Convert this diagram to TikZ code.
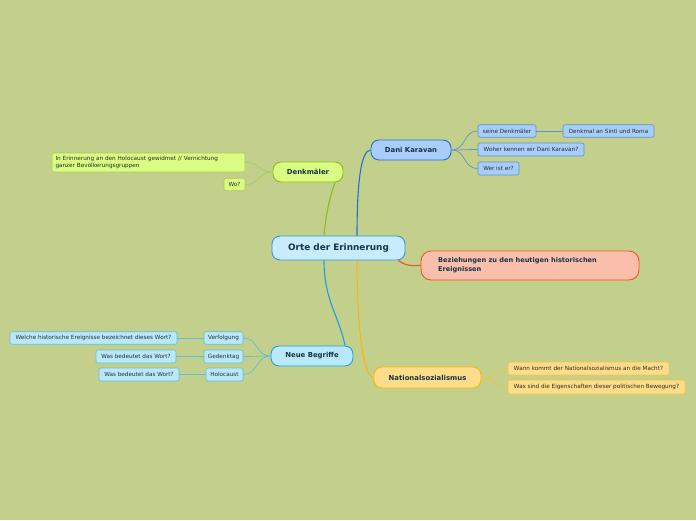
\documentclass[tikz,border=0pt]{standalone}
\usepackage{fontspec}
\setmainfont{DejaVu Sans}
\definecolor{bg}{RGB}{195,208,140}
\definecolor{txt}{RGB}{22,52,70}
\definecolor{subtxt}{RGB}{40,45,45}
\definecolor{cfill}{RGB}{200,236,252}
\definecolor{cdraw}{RGB}{50,150,215}
\definecolor{dvfill}{RGB}{168,205,250}
\definecolor{dvdraw}{RGB}{40,110,205}
\definecolor{dvline}{RGB}{95,145,205}
\definecolor{dkfill}{RGB}{218,252,130}
\definecolor{dkdraw}{RGB}{140,190,25}
\definecolor{dkline}{RGB}{165,205,85}
\definecolor{bzfill}{RGB}{249,191,170}
\definecolor{bzdraw}{RGB}{238,85,35}
\definecolor{nbfill}{RGB}{185,232,250}
\definecolor{nbdraw}{RGB}{25,160,220}
\definecolor{nbline}{RGB}{95,190,218}
\definecolor{nsfill}{RGB}{254,220,138}
\definecolor{nsdraw}{RGB}{245,183,20}
\definecolor{nsline}{RGB}{240,195,60}
\tikzset{
  mainnode/.style={rounded corners=8pt, draw, line width=0.9pt, font=\bfseries\fontsize{6.9}{8.5}\selectfont, text=txt, inner sep=0pt, minimum height=20pt},
  subnode/.style={rounded corners=2pt, draw, line width=0.6pt, font=\fontsize{5.7}{6.8}\selectfont, text=subtxt, inner sep=0pt, minimum height=12.5pt},
  dvsub/.style={subnode, fill=dvfill, draw=dvline},
  dksub/.style={subnode, fill=dkfill, draw=dkline},
  nbsub/.style={subnode, fill=nbfill, draw=nbline},
  nssub/.style={subnode, fill=nsfill, draw=nsline},
  mainline/.style={line width=1.1pt},
  subline/.style={line width=0.7pt},
}
\begin{document}
\begin{tikzpicture}[x=1pt,y=-1pt]
\fill[bg] (0,0) rectangle (696,520);
\useasboundingbox (0,0) rectangle (696,520);

% main nodes
\node[mainnode, fill=cfill, draw=cdraw, minimum width=133pt, minimum height=24pt, font=\bfseries\fontsize{8.9}{10.5}\selectfont] (c) at (338.5,248) {Orte der Erinnerung};
\node[mainnode, fill=dvfill, draw=dvdraw, minimum width=80pt] (dv) at (411,150) {Dani Karavan};
\node[mainnode, fill=dkfill, draw=dkdraw, minimum width=70pt] (dk) at (308,172) {Denkmäler};
\node[mainnode, fill=bzfill, draw=bzdraw, minimum width=218pt, minimum height=29pt, rounded corners=10pt] (bz) at (530,265.5) {};
\node[font=\bfseries\fontsize{6.6}{9}\selectfont, text=txt, align=left, anchor=west, inner sep=0pt] (bzt) at (438,265.5) {Beziehungen zu den heutigen historischen\\Ereignissen};
\node[mainnode, fill=nbfill, draw=nbdraw, minimum width=82pt] (nb) at (312,356) {Neue Begriffe};
\node[mainnode, fill=nsfill, draw=nsdraw, minimum width=107pt, minimum height=21pt] (ns) at (427.5,377.5) {Nationalsozialismus};

% Dani Karavan subs
\node[dvsub, minimum width=58pt] (s1) at (507,131) {seine Denkmäler};
\node[dvsub, minimum width=91pt] (s1a) at (608.5,131) {Denkmal an Sinti und Roma};
\node[dvsub, minimum width=106pt, minimum height=13pt] (s2) at (531,149.5) {Woher kennen wir Dani Karavan?};
\node[dvsub, minimum width=41pt, minimum height=13pt] (s3) at (498.5,168.5) {Wer ist er?};

% Denkmaeler subs
\node[dksub, minimum width=193pt, minimum height=19pt, align=left, text width=186pt] (d1) at (148.5,162.5) {In Erinnerung an den Holocaust gewidmet // Vernichtung\\ganzer Bevölkerungsgruppen};
\node[dksub, minimum width=21pt] (d2) at (234.5,184.5) {Wo?};

% Neue Begriffe subs
\node[nbsub, minimum width=39pt] (n1) at (223.5,338) {Verfolgung};
\node[nbsub, minimum width=167pt] (n1a) at (93.5,338) {Welche historische Ereignisse bezeichnet dieses Wort?};
\node[nbsub, minimum width=39pt, minimum height=13pt] (n2) at (223.5,356.5) {Gedenktag};
\node[nbsub, minimum width=80pt, minimum height=13pt] (n2a) at (136,356.5) {Was bedeutet das Wort?};
\node[nbsub, minimum width=37pt, minimum height=13pt] (n3) at (224.5,374.5) {Holocaust};
\node[nbsub, minimum width=80pt, minimum height=13pt] (n3a) at (139,374.5) {Was bedeutet das Wort?};

% NS subs
\node[nssub, minimum width=161pt, minimum height=13pt] (t1) at (588.5,368.5) {Wann kommt der Nationalsozialismus an die Macht?};
\node[nssub, minimum width=177pt, minimum height=14pt] (t2) at (596.5,387) {Was sind die Eigenschaften dieser politischen Bewegung?};

% main connectors
\draw[mainline, dkdraw] ([xshift=-14.5pt]c.north) .. controls +(2,-25) and +(-4,12) .. ([xshift=27pt]dk.south);
\draw[mainline, dvdraw] ([xshift=18.5pt]c.north) .. controls +(0,-50) and +(-10,0) .. (dv.west);
\draw[mainline, nbdraw] ([xshift=-14.5pt]c.south) .. controls +(0,40) and +(-6,-30) .. ([xshift=33pt]nb.north);
\draw[mainline, nsdraw] ([xshift=18.5pt]c.south) .. controls +(0,70) and +(-10,0) .. (ns.west);
\draw[mainline, bzdraw] ([xshift=60pt]c.south) .. controls +(8,6) and +(-10,0) .. (bz.west);

% sub connectors
\foreach \s in {s1,s2,s3}{
  \draw[subline, dvline] (dv.east) .. controls +(15,0) and +(-15,0) .. (\s.west);
}
\draw[subline, dvline] (s1.east) -- (s1a.west);
\foreach \s in {d1,d2}{
  \draw[subline, dkline] (dk.west) .. controls +(-15,0) and +(15,0) .. (\s.east);
}
\foreach \s in {n1,n2,n3}{
  \draw[subline, nbline] (nb.west) .. controls +(-15,0) and +(15,0) .. (\s.east);
}
\draw[subline, nbline] (n1.west) -- (n1a.east);
\draw[subline, nbline] (n2.west) -- (n2a.east);
\draw[subline, nbline] (n3.west) -- (n3a.east);
\foreach \s in {t1,t2}{
  \draw[subline, nsline] (ns.east) .. controls +(15,0) and +(-15,0) .. (\s.west);
}
\end{tikzpicture}
\end{document}
